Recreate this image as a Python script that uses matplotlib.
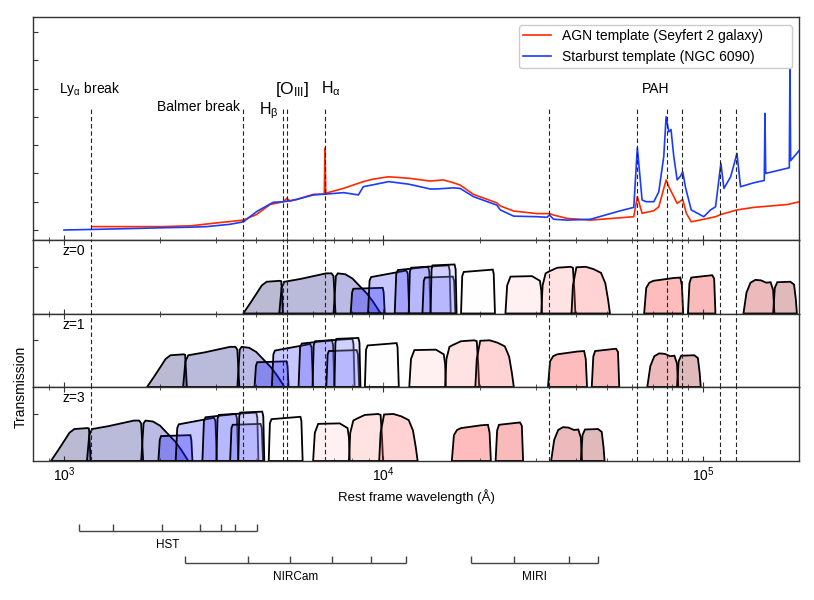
import matplotlib.pyplot as plt
import numpy as np

plt.rcParams["font.family"] = ["Liberation Sans", "DejaVu Sans"]
plt.rcParams["mathtext.fontset"] = "custom"
plt.rcParams["mathtext.rm"] = "Liberation Sans"
plt.rcParams["mathtext.it"] = "Liberation Sans:italic"
plt.rcParams["mathtext.default"] = "regular"

# ---- template spectra (rest wavelength in Angstrom, arbitrary flux) ----
SB_WAVE = [1000, 1216, 1600, 2044, 2500, 2793, 3300, 3647, 3800, 4010,
           4200, 4520, 4861, 5007, 5348, 6040, 6620, 7500, 8350, 8650,
           9300, 10380, 12000, 13030, 14000, 14690, 16560, 17380, 19130, 22650,
           23220, 25580, 30270, 32540, 33100, 34100, 37560, 44470, 55200, 60780,
           62370, 64540, 66500, 70230, 72800, 75450, 76750, 78240, 79500, 81100,
           83100, 85100, 86500, 88270, 91960, 100700, 105700, 109600, 113900, 116400,
           122200, 127900, 131200, 144500, 155700, 156500, 157300, 186500, 187400, 188300,
           201000]
SB_FLUX = [0.0, 0.02, 0.05, 0.08, 0.1, 0.12, 0.2, 0.29, 0.45, 0.65,
           0.78, 0.98, 1.0, 1.02, 1.08, 1.24, 1.27, 1.32, 1.24, 1.53,
           1.6, 1.71, 1.62, 1.53, 1.45, 1.45, 1.49, 1.47, 1.18, 0.88,
           0.71, 0.49, 0.47, 0.45, 0.53, 0.38, 0.35, 0.38, 0.68, 0.80,
           2.91, 1.06, 1.0, 1.0, 1.35, 2.6, 4.0, 3.47, 3.55, 2.6,
           1.77, 1.9, 2.06, 1.5, 0.71, 0.47, 0.71, 0.82, 2.36, 1.47,
           1.88, 2.71, 1.53, 1.67, 1.75, 4.12, 2.0, 2.2, 5.95, 2.45,
           2.83]

AGN_WAVE = [1230, 1607, 2042, 2500, 3005, 3640, 4010, 4415, 4861, 4990,
            5100, 5353, 6036, 6530, 6563, 6600, 7492, 8650, 9300, 10370,
            12000, 14000, 15410, 16560, 17380, 19130, 22650, 23220, 25580, 30270,
            33100, 34100, 37560, 44470, 60780, 62370, 64540, 70230, 72800, 76750,
            78240, 83100, 86500, 88800, 91960, 100700, 109600, 113900, 127900, 144500,
            183900, 201000]
AGN_FLUX = [0.12, 0.12, 0.12, 0.15, 0.25, 0.35, 0.55, 0.9, 1.0, 1.12,
            1.02, 1.08, 1.26, 1.27, 2.89, 1.3, 1.47, 1.71, 1.8, 1.88,
            1.83, 1.73, 1.77, 1.67, 1.59, 1.26, 0.96, 0.85, 0.67, 0.58,
            0.58, 0.53, 0.41, 0.35, 0.47, 1.18, 0.59, 0.68, 0.82, 1.77,
            1.53, 0.94, 1.08, 0.59, 0.29, 0.38, 0.47, 0.55, 0.71, 0.80,
            0.90, 1.0]

# spectral features marked with dashed lines (Angstrom)
LINE_WAVE = [1216, 3646, 4861, 5007, 6563, 33000, 62000, 77000, 86000, 113000, 127000]

REDSHIFTS = [0, 1, 3]

# ---- filter curves (observed wavelength in micron, transmission) ----
FILTER_NAMES = ["F435W", "F606W", "F814W", "F090W", "F105W", "F125W", "F140W",
                "F150W", "F160W", "F200W", "F277W", "F356W", "F444W",
                "F770W", "F1000W", "F1500W", "F1800W"]
FILTER_WAVE = [
    [0.364, 0.382, 0.401, 0.416, 0.431, 0.474, 0.479, 0.485],
    [0.472, 0.480, 0.490, 0.550, 0.662, 0.688, 0.698, 0.708],
    [0.698, 0.710, 0.720, 0.760, 0.800, 0.845, 0.890, 0.931, 0.960, 0.980],
    [0.790, 0.798, 0.805, 0.995, 1.002, 1.010],
    [0.895, 0.905, 0.915, 1.180, 1.192, 1.205],
    [1.085, 1.097, 1.110, 1.380, 1.392, 1.405],
    [1.200, 1.210, 1.222, 1.600, 1.612, 1.625],
    [1.325, 1.338, 1.350, 1.650, 1.665, 1.680],
    [1.405, 1.415, 1.425, 1.670, 1.683, 1.695],
    [1.750, 1.765, 1.785, 2.200, 2.215, 2.235],
    [2.41, 2.44, 2.50, 2.92, 3.09, 3.12, 3.14],
    [3.12, 3.15, 3.22, 3.30, 3.50, 3.85, 3.92, 3.96, 3.99],
    [3.88, 3.92, 4.02, 4.30, 4.55, 4.80, 4.95, 5.05, 5.12],
    [6.55, 6.65, 6.80, 7.00, 8.10, 8.50, 8.60, 8.68],
    [8.98, 9.08, 9.20, 10.70, 10.85, 10.95],
    [13.4, 13.7, 14.1, 14.6, 15.2, 15.8, 16.3, 16.6, 16.75],
    [16.6, 16.8, 17.1, 18.8, 19.3, 19.55, 19.7],
]
FILTER_TRANS = [
    [0, 0.21, 0.43, 0.60, 0.68, 0.70, 0.69, 0],
    [0, 0.55, 0.68, 0.74, 0.86, 0.86, 0.80, 0],
    [0, 0.80, 0.86, 0.84, 0.75, 0.58, 0.42, 0.24, 0.10, 0],
    [0, 0.45, 0.53, 0.55, 0.45, 0],
    [0, 0.70, 0.78, 0.92, 0.85, 0],
    [0, 0.85, 0.93, 1.00, 0.90, 0],
    [0, 0.90, 0.98, 1.03, 0.92, 0],
    [0, 0.70, 0.77, 0.79, 0.70, 0],
    [0, 0.95, 1.03, 1.05, 0.95, 0],
    [0, 0.80, 0.89, 0.94, 0.85, 0],
    [0, 0.60, 0.79, 0.80, 0.70, 0.50, 0],
    [0, 0.60, 0.86, 0.90, 0.98, 1.00, 0.98, 0.50, 0],
    [0, 0.60, 0.99, 1.00, 0.95, 0.87, 0.65, 0.30, 0],
    [0, 0.55, 0.66, 0.70, 0.76, 0.77, 0.60, 0],
    [0, 0.65, 0.77, 0.82, 0.75, 0],
    [0, 0.45, 0.66, 0.72, 0.71, 0.66, 0.67, 0.50, 0],
    [0, 0.55, 0.67, 0.68, 0.62, 0.30, 0],
]
# position of each filter on the seismic colour map
FILTER_SHADE = [0.02, 0.06, 0.12, 0.25, 0.30, 0.32, 0.38, 0.35, 0.42,
                0.50, 0.55, 0.60, 0.66, 0.74, 0.80, 0.88, 0.97]

# instrument coverage brackets drawn under the axes (figure pixels)
HST_TICKS = [78.6, 113.0, 161.7, 200.0, 221.0, 235.2, 257.4]
NIRCAM_TICKS = [185.0, 248.3, 290.2, 331.7, 370.8, 405.6]
MIRI_TICKS = [471.3, 514.4, 568.5, 598.2]

W_PX, H_PX = 814, 600
left, width = 33 / W_PX, (799 - 33) / W_PX

fig = plt.figure(figsize=(W_PX / 100, H_PX / 100), dpi=100)
ax_sed = fig.add_axes([left, 1 - 240 / H_PX, width, (240 - 17.3) / H_PX])
panel_edges = [240, 313.5, 387, 461]
ax_z = []
for i in range(3):
    top, bot = panel_edges[i], panel_edges[i + 1]
    ax_z.append(fig.add_axes([left, 1 - bot / H_PX, width, (bot - top) / H_PX],
                             sharex=ax_sed))

spine_color = "#333333"
cmap = plt.get_cmap("seismic")

# ---- SED panel ----
ax_sed.plot(AGN_WAVE, AGN_FLUX, color="#ff2a00", lw=1.2,
            label="AGN template (Seyfert 2 galaxy)")
ax_sed.plot(SB_WAVE, SB_FLUX, color="#1a3cff", lw=1.2,
            label="Starburst template (NGC 6090)")
ax_sed.vlines(LINE_WAVE, -1, 4.36, colors="#222222", lw=0.8,
              linestyles=(0, (4, 2.5)), zorder=3)
ax_sed.set_xscale("log")
ax_sed.set_xlim(800, 2.0e5)
ax_sed.set_ylim(-0.353, 7.516)
ax_sed.set_yticks(range(8))
ax_sed.set_yticklabels([])
ax_sed.tick_params(which="both", direction="in", labelbottom=False,
                   top=False, right=False, color=spine_color)
leg_x0 = (519 - 33) / 766
leg_x1 = (792 - 33) / 766
leg_top = (240 - 25) / 222.7
ax_sed.legend(loc="upper left", bbox_to_anchor=(leg_x0, 0, leg_x1 - leg_x0, leg_top),
              mode="expand", borderaxespad=0, borderpad=0.3, fontsize=10,
              handlelength=2.0, edgecolor="#cccccc", framealpha=1)

ax_sed.text(1204, 4.98, r"Ly$_{\alpha}$ break", fontsize=10, ha="center", va="center")
ax_sed.text(3560, 4.34, "Balmer break", fontsize=10, ha="right", va="center")
ax_sed.text(4700, 4.2, r"H$_{\beta}$", fontsize=11.5, ha="right", va="center")
ax_sed.text(5185, 4.95, r"[O$_{III}$]", fontsize=12.5, ha="center", va="center")
ax_sed.text(6835, 4.98, r"H$_{\alpha}$", fontsize=11.5, ha="center", va="center")
ax_sed.text(71000, 4.98, "PAH", fontsize=10, ha="center", va="center")

# ---- filter panels ----
for ax, z in zip(ax_z, REDSHIFTS):
    for wave, trans, shade in zip(FILTER_WAVE, FILTER_TRANS, FILTER_SHADE):
        rest = np.array(wave) * 1e4 / (1 + z)
        r, g, b, _ = cmap(shade)
        ax.fill(rest, trans, facecolor=(r, g, b, 0.27), edgecolor="black",
                lw=1.3, zorder=2)
    for w in LINE_WAVE:
        ax.axvline(w, color="#222222", lw=0.8, ls=(0, (4, 2.5)), zorder=3)
    ax.set_ylim(0, 1.574)
    ax.set_yticks([1])
    ax.set_yticklabels([])
    ax.tick_params(which="both", direction="in", top=True, right=False,
                   labelbottom=False, color=spine_color)
    ax.text(0.039, 0.85, f"z={z}", transform=ax.transAxes, fontsize=10,
            ha="left", va="center")

ax_z[-1].tick_params(labelbottom=True, labelsize=10, pad=3.5)
ax_z[-1].set_xlabel("Rest frame wavelength (Å)", fontsize=9.5, labelpad=3)

for ax in [ax_sed] + ax_z:
    for s in ax.spines.values():
        s.set_color(spine_color)
        s.set_linewidth(1.0)

fig.text(20.5 / W_PX, 1 - 387 / H_PX, "Transmission", rotation=90,
         ha="center", va="center", fontsize=10)

# ---- instrument brackets ----
ax_b = fig.add_axes([0, 0, 1, 1], zorder=-1)
ax_b.set_xlim(0, W_PX)
ax_b.set_ylim(H_PX, 0)
ax_b.axis("off")
for ticks, y_line, name, y_text in [(HST_TICKS, 531, "HST", 545),
                                    (NIRCAM_TICKS, 563, "NIRCam", 577),
                                    (MIRI_TICKS, 563, "MIRI", 577)]:
    ax_b.hlines(y_line, ticks[0], ticks[-1], color="#444444", lw=1.0)
    ax_b.vlines(ticks, y_line, y_line - 6.7, color="#444444", lw=1.0)
    ax_b.text((ticks[0] + ticks[-1]) / 2, y_text, name, fontsize=8.5,
              ha="center", va="center")

fig.savefig("out.png", dpi=100)
